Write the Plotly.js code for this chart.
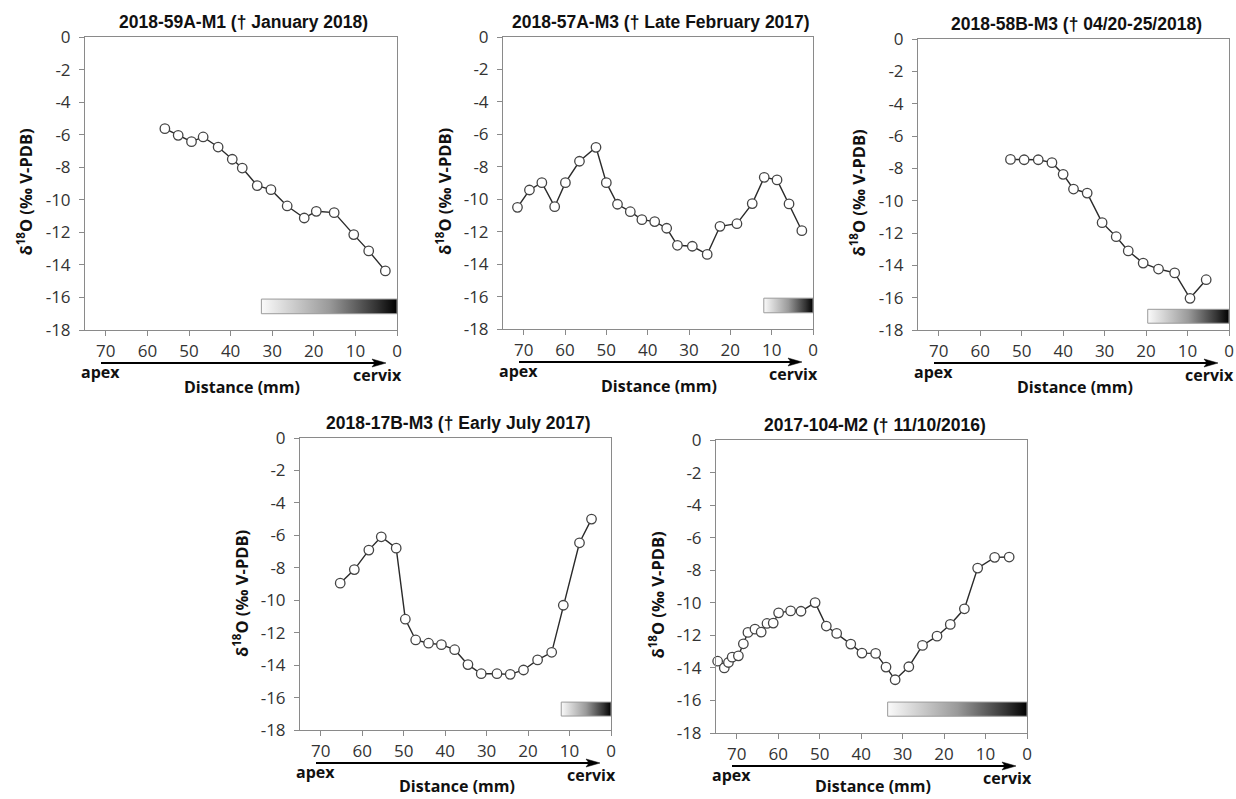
<!DOCTYPE html>
<html>
<head>
<meta charset="utf-8">
<script src="https://cdn.plot.ly/plotly-3.0.1.min.js"></script>
<style>html,body{margin:0;padding:0;background:#fff;}#chart{width:1236px;height:799px;}</style>
</head>
<body>
<div id="chart"></div>
<script>
// ---------- DATA ----------
const panelTitles = [
  "2018-59A-M1 (\u2020 January 2018)",
  "2018-57A-M3 (\u2020 Late February 2017)",
  "2018-58B-M3 (\u2020 04/20-25/2018)",
  "2018-17B-M3 (\u2020 Early July 2017)",
  "2017-104-M2 (\u2020 11/10/2016)"
];

const p1Dist = [55.8, 52.6, 49.4, 46.6, 43.0, 39.6, 37.2, 33.6, 30.3, 26.4, 22.3, 19.4, 15.1, 10.4, 6.8, 2.8];
const p1D18O = [-5.63, -6.04, -6.43, -6.14, -6.76, -7.51, -8.05, -9.13, -9.38, -10.38, -11.12, -10.71, -10.79, -12.14, -13.14, -14.37];

const p2Dist = [71.5, 68.6, 65.6, 62.5, 59.9, 56.5, 52.5, 50.0, 47.3, 44.2, 41.4, 38.3, 35.4, 32.8, 29.2, 25.6, 22.5, 18.4, 14.7, 11.8, 8.7, 5.8, 2.7];
const p2D18O = [-10.50, -9.43, -8.98, -10.46, -8.98, -7.66, -6.80, -8.98, -10.31, -10.77, -11.26, -11.38, -11.79, -12.84, -12.90, -13.40, -11.67, -11.51, -10.27, -8.65, -8.81, -10.29, -11.94];

const p3Dist = [52.7, 49.4, 46.0, 42.7, 40.0, 37.5, 34.2, 30.6, 27.2, 24.3, 20.7, 17.0, 13.1, 9.4, 5.5];
const p3D18O = [-7.45, -7.47, -7.47, -7.65, -8.37, -9.28, -9.53, -11.36, -12.23, -13.11, -13.86, -14.23, -14.47, -16.04, -14.89];

const p4Dist = [65.3, 61.9, 58.4, 55.4, 51.8, 49.6, 47.1, 44.0, 40.9, 37.7, 34.5, 31.3, 27.5, 24.3, 21.1, 17.7, 14.3, 11.5, 7.6, 4.7];
const p4D18O = [-8.95, -8.11, -6.91, -6.09, -6.79, -11.17, -12.45, -12.65, -12.74, -13.05, -13.97, -14.53, -14.53, -14.57, -14.30, -13.68, -13.21, -10.31, -6.46, -5.00];

const p5Dist = [74.6, 73.0, 72.0, 71.1, 69.6, 68.4, 67.3, 65.6, 64.1, 62.7, 61.2, 59.9, 57.0, 54.5, 51.1, 48.4, 45.9, 42.5, 39.8, 36.5, 34.0, 31.8, 28.5, 25.2, 21.7, 18.5, 15.1, 11.9, 7.8, 4.3];
const p5D18O = [-13.59, -14.00, -13.67, -13.34, -13.26, -12.52, -11.82, -11.62, -11.80, -11.27, -11.25, -10.62, -10.50, -10.52, -9.99, -11.43, -11.88, -12.54, -13.09, -13.11, -13.95, -14.73, -13.93, -12.62, -12.05, -11.33, -10.37, -7.87, -7.21, -7.19];

// maturation gradient bars (distance from, to; delta values top, bottom)
const barFrom   = [32.6, 11.9, 19.6, 12.0, 33.6];
const barTo     = [0, 0, 0, 0, 0];
const barTop    = [-16.1, -16.1, -16.72, -16.28, -16.1];
const barBottom = [-17.0, -17.0, -17.58, -17.14, -16.97];

const xTickVals = [70, 60, 50, 40, 30, 20, 10, 0];
const xTickLabels = ["70", "60", "50", "40", "30", "20", "10", "0"];
const yTickVals = [0, -2, -4, -6, -8, -10, -12, -14, -16, -18];
const yTickLabels = ["0", "-2", "-4", "-6", "-8", "-10", "-12", "-14", "-16", "-18"];

const xLabel = "Distance (mm)";
const yLabel = "\u03b4<sup>18</sup>O (\u2030 V-PDB)";
const apexLabel = "apex";
const cervixLabel = "cervix";

const series = [[p1Dist, p1D18O], [p2Dist, p2D18O], [p3Dist, p3D18O], [p4Dist, p4D18O], [p5Dist, p5D18O]];

// ---------- LAYOUT ----------
const W = 1236, H = 799;
// plot boxes in pixels: left, right, top, bottom
const boxes = [[85, 397, 37, 330], [503, 813, 37, 329], [918, 1229, 39, 330], [300, 611, 438, 730], [716, 1027, 440, 733]];
const px = x => x / W;
const py = y => 1 - y / H;

const traces = [];
const layout = {
  width: W, height: H, autosize: false,
  margin: {l: 0, r: 0, t: 0, b: 0},
  paper_bgcolor: "#ffffff", plot_bgcolor: "#ffffff",
  showlegend: false,
  annotations: [], shapes: []
};

const tickFont = {family: "Open Sans, sans-serif", size: 17, color: "#333333"};
const boldFont = {family: "Open Sans, sans-serif", size: 16, color: "#111111"};
const yLabFont = {family: "Open Sans, sans-serif", size: 16.5, color: "#111111"};
const axisCol = "#8a8a8a";

boxes.forEach((b, i) => {
  const [L, R, T, B] = b;
  const n = i + 1;
  const xa = "xaxis" + (n === 1 ? "" : n);
  const ya = "yaxis" + (n === 1 ? "" : n);
  const xr = "x" + (n === 1 ? "" : n);
  const yr = "y" + (n === 1 ? "" : n);

  layout[xa] = {
    domain: [px(L), px(R)], anchor: yr, range: [75, 0],
    tickvals: xTickVals, ticktext: xTickLabels,
    showline: true, linecolor: axisCol, linewidth: 1, mirror: true,
    ticks: "outside", ticklen: 5, tickcolor: axisCol, tickwidth: 1,
    ticklabelstandoff: 1,
    showgrid: false, zeroline: false, tickfont: tickFont, fixedrange: true
  };
  layout[ya] = {
    domain: [py(B), py(T)], anchor: xr, range: [-18, 0],
    tickvals: yTickVals, ticktext: yTickLabels,
    showline: true, linecolor: axisCol, linewidth: 1, mirror: true,
    ticks: "outside", ticklen: 5, tickcolor: axisCol, tickwidth: 1,
    ticklabelstandoff: 5,
    showgrid: false, zeroline: false, tickfont: tickFont, fixedrange: true
  };

  // gradient bar
  traces.push({
    type: "scatter", mode: "lines", xaxis: xr, yaxis: yr,
    x: [barFrom[i], barTo[i], barTo[i], barFrom[i], barFrom[i]],
    y: [barTop[i], barTop[i], barBottom[i], barBottom[i], barTop[i]],
    fill: "toself",
    fillgradient: {type: "horizontal", colorscale: [[0, "#fafafa"], [0.5, "#9a9a9a"], [0.85, "#333333"], [1, "#000000"]]},
    line: {color: "#9a9a9a", width: 1},
    hoverinfo: "skip"
  });

  // data
  traces.push({
    type: "scatter", mode: "lines+markers", xaxis: xr, yaxis: yr,
    x: series[i][0], y: series[i][1],
    line: {color: "#2a2a2a", width: 1.4},
    marker: {symbol: "circle", size: 9.5, color: "#ffffff", line: {color: "#444444", width: 1.3}},
    cliponaxis: false
  });

  // title
  layout.annotations.push({
    xref: "paper", yref: "paper", x: px((L + R) / 2 + 3), y: py(T - 15),
    xanchor: "center", yanchor: "middle", showarrow: false,
    text: "<b>" + panelTitles[i] + "</b>",
    font: {family: "Liberation Sans, Arial, sans-serif", size: 17.5, color: "#111111"}
  });
  // y label
  layout.annotations.push({
    xref: "paper", yref: "paper", x: px(L - 59), y: py((T + B) / 2 + 9),
    xanchor: "center", yanchor: "middle", showarrow: false, textangle: -90,
    text: "<b>" + yLabel + "</b>", font: yLabFont
  });
  // apex / cervix / distance
  layout.annotations.push({
    xref: "paper", yref: "paper", x: px(L + 15), y: py(B + 42),
    xanchor: "center", yanchor: "middle", showarrow: false,
    text: "<b>" + apexLabel + "</b>", font: boldFont
  });
  layout.annotations.push({
    xref: "paper", yref: "paper", x: px(R - 20), y: py(B + 45),
    xanchor: "center", yanchor: "middle", showarrow: false,
    text: "<b>" + cervixLabel + "</b>", font: boldFont
  });
  layout.annotations.push({
    xref: "paper", yref: "paper", x: px((L + R) / 2 + 1), y: py(Math.min(B + 57, 786)),
    xanchor: "center", yanchor: "middle", showarrow: false,
    text: "<b>" + xLabel + "</b>", font: boldFont
  });

  // arrow
  const ay = B + 33;
  const x0 = L + 16, x1 = R - 11;
  layout.shapes.push({
    type: "line", xref: "paper", yref: "paper",
    x0: px(x0), x1: px(x1 - 10), y0: py(ay), y1: py(ay),
    line: {color: "#000000", width: 2}
  });
  layout.shapes.push({
    type: "path", xref: "paper", yref: "paper",
    path: "M " + px(x1 - 14) + " " + py(ay - 4) + " L " + px(x1) + " " + py(ay) +
          " L " + px(x1 - 14) + " " + py(ay + 4) + " L " + px(x1 - 11) + " " + py(ay) + " Z",
    fillcolor: "#000000", line: {color: "#000000", width: 0.5}
  });
});

Plotly.newPlot("chart", traces, layout, {staticPlot: true, displayModeBar: false});
</script>
</body>
</html>
